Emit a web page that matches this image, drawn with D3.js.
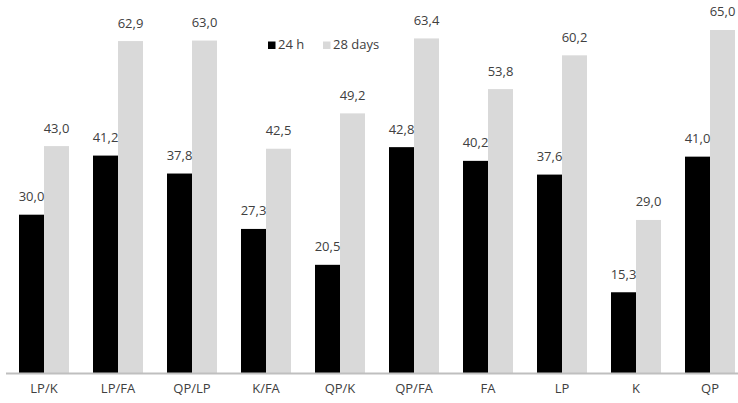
<!DOCTYPE html>
<html>
<head>
<meta charset="utf-8">
<script src="https://cdn.jsdelivr.net/npm/d3@7/dist/d3.min.js"></script>
<style>
  html, body { margin: 0; padding: 0; background: #fff; }
  svg { display: block; font-family: "Open Sans", sans-serif; }
</style>
</head>
<body>
<svg id="chart" width="738" height="403"></svg>
<script>
// Compressive strength by binder mix, MPa
const categories = ["LP/K", "LP/FA", "QP/LP", "K/FA", "QP/K", "QP/FA", "FA", "LP", "K", "QP"];
const seriesNames = ["24 h", "28 days"];
const values24h = [30.0, 41.2, 37.8, 27.3, 20.5, 42.8, 40.2, 37.6, 15.3, 41.0];
const values28d = [43.0, 62.9, 63.0, 42.5, 49.2, 63.4, 53.8, 60.2, 29.0, 65.0];
const seriesColors = ["#000000", "#d9d9d9"];

const seriesValues = [values24h, values28d];
const rows = categories.map((c, i) => ({
  cat: c,
  vals: seriesNames.map((s, k) => ({ series: s, value: seriesValues[k][i] }))
}));

const svg = d3.select("#chart");
const baseY = 373;

const x = d3.scaleBand()
  .domain(categories)
  .range([7, 747])
  .paddingInner(24 / 74)
  .paddingOuter(12 / 74);

const xs = d3.scaleBand()
  .domain(seriesNames)
  .range([0, x.bandwidth()])
  .padding(0);

const y = d3.scaleLinear()
  .domain([0, 70])
  .range([baseY, baseY - 70 * 5.277]);

const color = d3.scaleOrdinal().domain(seriesNames).range(seriesColors);
const fmt = v => d3.format(".1f")(v).replace(".", ",");

const groups = svg.append("g").selectAll("g")
  .data(rows)
  .join("g")
  .attr("transform", d => `translate(${x(d.cat)},0)`);

groups.selectAll("rect")
  .data(d => d.vals)
  .join("rect")
  .attr("x", d => xs(d.series))
  .attr("width", xs.bandwidth())
  .attr("y", d => y(d.value))
  .attr("height", d => y(0) - y(d.value))
  .attr("fill", d => color(d.series));

groups.selectAll("text.val")
  .data(d => d.vals)
  .join("text")
  .attr("class", "val")
  .attr("x", d => xs(d.series) + xs.bandwidth() / 2)
  .attr("y", d => y(d.value) - 13.5)
  .attr("text-anchor", "middle")
  .attr("font-size", 13)
  .attr("fill", "#404040")
  .text(d => fmt(d.value));

// Category axis: baseline only, no ticks
const xAxis = svg.append("g")
  .attr("transform", `translate(0,${baseY})`)
  .call(d3.axisBottom(x).tickSize(0).tickPadding(11));
xAxis.select(".domain").attr("d", "M6,0.5H738").attr("stroke", "#bfbfbf").attr("stroke-width", 2);
xAxis.selectAll("text")
  .attr("font-family", "Open Sans, sans-serif")
  .attr("font-size", 13)
  .attr("fill", "#404040");

// Legend
const legend = svg.append("g").attr("transform", "translate(268,49)");
const legendOffsets = [0, 55];
const li = legend.selectAll("g")
  .data(seriesNames)
  .join("g")
  .attr("transform", (d, i) => `translate(${legendOffsets[i]},0)`);
li.append("rect")
  .attr("x", 0).attr("y", -7.5)
  .attr("width", 7.5).attr("height", 7.5)
  .attr("fill", d => color(d));
li.append("text")
  .attr("x", 10).attr("y", 0)
  .attr("font-size", 13)
  .attr("fill", "#404040")
  .text(d => d);
</script>
</body>
</html>
